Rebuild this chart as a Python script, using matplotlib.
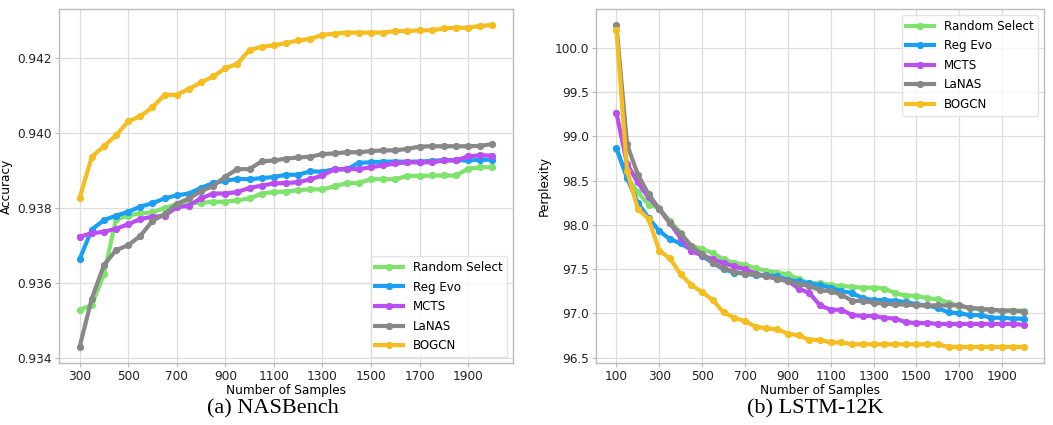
import matplotlib
matplotlib.use("Agg")
import matplotlib.pyplot as plt

# ---------------- data ----------------
x_nas = list(range(300, 2001, 50))
nas_random = [0.93527, 0.93541, 0.93623, 0.93770, 0.93779, 0.93785, 0.93788, 0.93799, 0.93810, 0.93813,
              0.93813, 0.93816, 0.93816, 0.93820, 0.93825, 0.93838, 0.93842, 0.93843, 0.93847, 0.93849,
              0.93849, 0.93857, 0.93866, 0.93866, 0.93876, 0.93876, 0.93876, 0.93885, 0.93885, 0.93886,
              0.93886, 0.93886, 0.93904, 0.93908, 0.93908]
nas_regevo = [0.93663, 0.93742, 0.93767, 0.93779, 0.93789, 0.93803, 0.93812, 0.93825, 0.93833, 0.93838,
              0.93853, 0.93866, 0.93872, 0.93877, 0.93876, 0.93879, 0.93882, 0.93888, 0.93888, 0.93897,
              0.93896, 0.93903, 0.93902, 0.93920, 0.93921, 0.93923, 0.93923, 0.93923, 0.93923, 0.93925,
              0.93927, 0.93927, 0.93926, 0.93928, 0.93928]
nas_mcts = [0.93723, 0.93732, 0.93736, 0.93744, 0.93756, 0.93770, 0.93776, 0.93779, 0.93801, 0.93806,
            0.93825, 0.93838, 0.93838, 0.93842, 0.93853, 0.93859, 0.93865, 0.93866, 0.93868, 0.93876,
            0.93886, 0.93903, 0.93903, 0.93903, 0.93908, 0.93913, 0.93918, 0.93921, 0.93921, 0.93921,
            0.93926, 0.93926, 0.93937, 0.93940, 0.93939]
nas_lanas = [0.93429, 0.93558, 0.93647, 0.93687, 0.93700, 0.93725, 0.93765, 0.93783, 0.93810, 0.93825,
             0.93844, 0.93858, 0.93883, 0.93903, 0.93903, 0.93924, 0.93926, 0.93931, 0.93934, 0.93936,
             0.93943, 0.93945, 0.93948, 0.93948, 0.93951, 0.93953, 0.93953, 0.93957, 0.93963, 0.93964,
             0.93964, 0.93964, 0.93964, 0.93965, 0.93970]
nas_bogcn = [0.93826, 0.93936, 0.93964, 0.93993, 0.94030, 0.94044, 0.94068, 0.94101, 0.94101, 0.94117,
             0.94134, 0.94150, 0.94172, 0.94184, 0.94221, 0.94229, 0.94233, 0.94239, 0.94246, 0.94250,
             0.94261, 0.94264, 0.94267, 0.94267, 0.94267, 0.94267, 0.94271, 0.94271, 0.94273, 0.94273,
             0.94278, 0.94280, 0.94280, 0.94285, 0.94287]

x_lstm = list(range(100, 2001, 50))
lstm_random = [98.86, 98.54, 98.37, 98.23, 98.19, 98.04, 97.91, 97.76, 97.73, 97.68,
               97.61, 97.57, 97.55, 97.51, 97.48, 97.46, 97.44, 97.39, 97.34, 97.34,
               97.32, 97.31, 97.30, 97.29, 97.29, 97.28, 97.23, 97.20, 97.20, 97.17,
               97.16, 97.12, 97.08, 97.06, 97.05, 97.04, 97.03, 97.03, 97.03]
lstm_regevo = [98.87, 98.53, 98.25, 98.08, 97.93, 97.84, 97.79, 97.72, 97.65, 97.57,
               97.50, 97.46, 97.45, 97.43, 97.43, 97.42, 97.38, 97.36, 97.34, 97.32,
               97.29, 97.25, 97.23, 97.17, 97.15, 97.15, 97.14, 97.13, 97.10, 97.09,
               97.06, 97.01, 97.00, 96.98, 96.98, 96.95, 96.95, 96.94, 96.94]
lstm_mcts = [99.27, 98.69, 98.48, 98.31, 98.18, 98.02, 97.85, 97.70, 97.66, 97.61,
             97.57, 97.53, 97.50, 97.45, 97.42, 97.39, 97.37, 97.28, 97.23, 97.09,
             97.04, 97.04, 96.98, 96.97, 96.97, 96.95, 96.94, 96.90, 96.89, 96.89,
             96.88, 96.88, 96.88, 96.88, 96.88, 96.88, 96.88, 96.88, 96.87]
lstm_lanas = [100.26, 98.91, 98.57, 98.35, 98.18, 98.02, 97.90, 97.76, 97.67, 97.57,
              97.51, 97.47, 97.45, 97.44, 97.42, 97.39, 97.36, 97.33, 97.31, 97.26,
              97.25, 97.21, 97.14, 97.14, 97.12, 97.11, 97.10, 97.10, 97.09, 97.09,
              97.09, 97.09, 97.09, 97.06, 97.05, 97.04, 97.03, 97.03, 97.02]
lstm_bogcn = [100.21, 98.61, 98.18, 98.07, 97.71, 97.62, 97.44, 97.32, 97.24, 97.15,
              97.01, 96.95, 96.91, 96.85, 96.83, 96.82, 96.77, 96.75, 96.70, 96.70,
              96.67, 96.67, 96.65, 96.65, 96.65, 96.65, 96.65, 96.65, 96.65, 96.65,
              96.65, 96.62, 96.62, 96.62, 96.62, 96.62, 96.62, 96.62, 96.62]

labels = ["Random Select", "Reg Evo", "MCTS", "LaNAS", "BOGCN"]
colors = ["#7DE36C", "#1A9FF3", "#BB4EF0", "#888888", "#F5BD1F"]

nas_xticks = list(range(300, 2000, 200))
nas_yticks = [0.934, 0.936, 0.938, 0.940, 0.942]
lstm_xticks = list(range(100, 2000, 200))
lstm_yticks = [96.5, 97.0, 97.5, 98.0, 98.5, 99.0, 99.5, 100.0]

# ---------------- plot ----------------
plt.rcParams['font.family'] = ['DejaVu Sans']
fig = plt.figure(figsize=(10.53, 4.25), dpi=100)

ax1 = fig.add_axes([59/1053, 1-363/425, (513-59)/1053, (363-9)/425])
ax2 = fig.add_axes([596/1053, 1-363/425, (1044-596)/1053, (363-9)/425])

def style(ax):
    ax.set_facecolor("white")
    ax.grid(True, color="#dddddd", linewidth=0.9)
    ax.set_axisbelow(True)
    for s in ax.spines.values():
        s.set_color("#bbbbbb")
        s.set_linewidth(1.0)
    ax.tick_params(axis="both", labelsize=8.7, length=3, color="#bbbbbb", labelcolor="#222222", pad=2)

leg_kw = dict(fontsize=8.6, handlelength=2.3, labelspacing=0.55, edgecolor="#dddddd", fancybox=True)

series_nas = [nas_random, nas_regevo, nas_mcts, nas_lanas, nas_bogcn]
for ys, lab, c in zip(series_nas, labels, colors):
    ax1.plot(x_nas, ys, color=c, lw=3, marker="o", ms=4.2, label=lab)
style(ax1)
ax1.set_xticks(nas_xticks)
ax1.set_yticks(nas_yticks)
ax1.set_xlabel("Number of Samples", fontsize=8.7, labelpad=1)
ax1.set_ylabel("Accuracy", fontsize=8.7, labelpad=3)
ax1.legend(loc="lower right", **leg_kw)

series_lstm = [lstm_random, lstm_regevo, lstm_mcts, lstm_lanas, lstm_bogcn]
for ys, lab, c in zip(series_lstm, labels, colors):
    ax2.plot(x_lstm, ys, color=c, lw=3, marker="o", ms=4.2, label=lab)
style(ax2)
ax2.set_xticks(lstm_xticks)
ax2.set_yticks(lstm_yticks)
ax2.set_xlabel("Number of Samples", fontsize=8.7, labelpad=1)
ax2.set_ylabel("Perplexity", fontsize=8.7, labelpad=3)
ax2.legend(loc="upper right", **leg_kw)

fig.text((59+513)/2/1053 - 0.012, 1-409/425, "(a) NASBench", ha="center", va="center",
         fontsize=16, family="Liberation Serif")
fig.text((596+1044)/2/1053 - 0.004, 1-409/425, "(b) LSTM-12K", ha="center", va="center",
         fontsize=16, family="Liberation Serif")

fig.savefig("out.png", dpi=100)
